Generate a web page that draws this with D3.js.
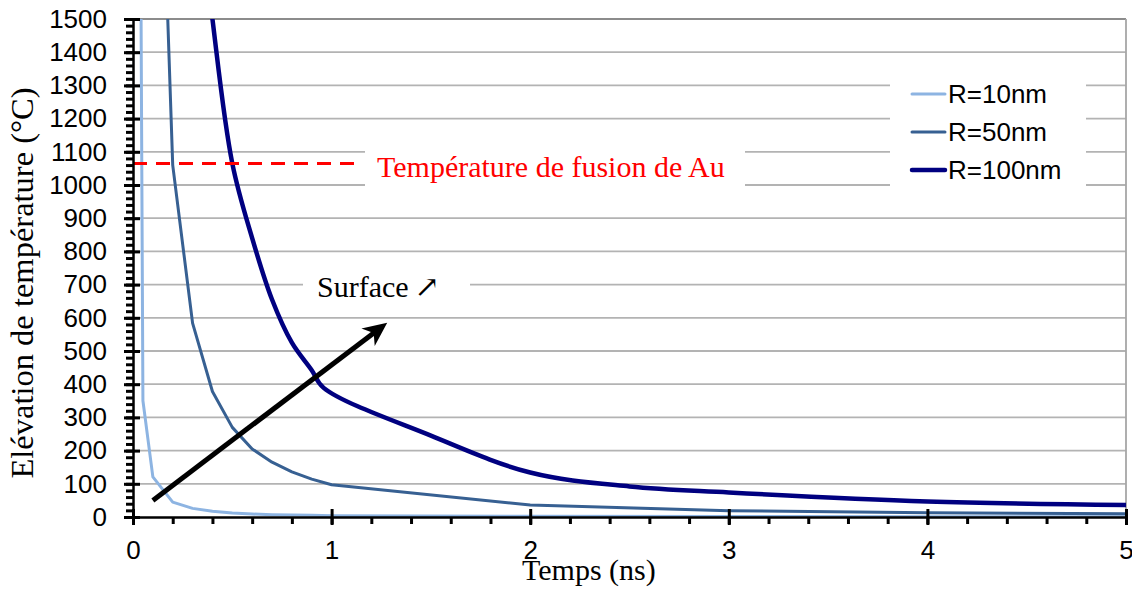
<!DOCTYPE html>
<html>
<head>
<meta charset="utf-8">
<script src="https://cdn.jsdelivr.net/npm/d3@7"></script>
<style>
  html, body { margin: 0; padding: 0; background: #fff; }
  svg { display: block; }
</style>
</head>
<body>
<svg id="chart" width="1132" height="596"></svg>
<script>
// ---- data ----
const seriesNames = ["R=10nm", "R=50nm", "R=100nm"];
const seriesColors = ["#8db4e2", "#376092", "#000080"];
const r10Time  = [0.035, 0.05, 0.1, 0.2, 0.3, 0.4, 0.5, 0.6, 0.7, 0.8, 0.9, 1, 2, 3, 4, 5];
const r10Temp  = [2200, 350, 121, 45, 26, 17, 12, 9, 7, 6, 5, 4, 2, 1.5, 1, 1];
const r50Time  = [0.15, 0.2, 0.3, 0.4, 0.5, 0.6, 0.7, 0.8, 0.9, 1, 2, 3, 4, 5];
const r50Temp  = [1940, 1060, 584, 378, 270, 205, 165, 136, 114, 97, 36, 19, 13, 10];
const r100Time = [0.3, 0.4, 0.5, 0.6, 0.7, 0.8, 0.9, 0.96, 1.5, 2, 2.5, 3, 4, 5];
const r100Temp = [2050, 1500, 1065, 840, 655, 525, 442, 389, 245, 134, 92, 74, 47, 36];
const xTicks = [0, 1, 2, 3, 4, 5];
const xMinorTicks = d3.range(0, 5.0001, 0.2);
const yTicks = d3.range(0, 1501, 100);
const yMinorTicks = d3.range(0, 1501, 20);
const meltTemp = 1065;
const meltLabel = "Température de fusion de Au";
const arrowFrom = [0.1, 50];
const arrowTo = [1.28, 585];
const xTitle = "Temps (ns)";
const yTitle = "Elévation de température (°C)";
const surfaceLabel = "Surface\u2009↗";

// ---- layout ----
const svg = d3.select("#chart");
const x = d3.scaleLinear().domain([0, 5]).range([133, 1126]);
const y = d3.scaleLinear().domain([0, 1500]).range([517, 19]);

const SANS = "'Liberation Sans', Arial, sans-serif";
const SERIF = "'Liberation Serif', 'Times New Roman', 'DejaVu Serif', serif";

svg.append("clipPath").attr("id", "plotclip")
  .append("rect").attr("x", 133).attr("y", 19).attr("width", 993).attr("height", 498);

// gridlines
svg.append("g").selectAll("line").data(yTicks.filter(d => d > 0)).join("line")
  .attr("x1", x(0)).attr("x2", x(5))
  .attr("y1", d => y(d)).attr("y2", d => y(d))
  .attr("stroke", d => d === 1500 ? "#8c8c8c" : "#b3b3b3")
  .attr("stroke-width", 1.8);
// right border
svg.append("line").attr("x1", x(5)).attr("x2", x(5)).attr("y1", y(1500)).attr("y2", y(0))
  .attr("stroke", "#a6a6a6").attr("stroke-width", 1.8);

// white boxes covering gridlines
svg.append("rect").attr("x", 890).attr("y", 74).attr("width", 196).attr("height", 118).attr("fill", "#fff");
svg.append("rect").attr("x", 365).attr("y", 143).attr("width", 380).attr("height", 49).attr("fill", "#fff");
svg.append("rect").attr("x", 303).attr("y", 268).attr("width", 167).attr("height", 32).attr("fill", "#fff");

// series
const allSeries = [
  { name: seriesNames[0], color: seriesColors[0], width: 3, t: r10Time, v: r10Temp, curve: d3.curveLinear },
  { name: seriesNames[1], color: seriesColors[1], width: 3, t: r50Time, v: r50Temp, curve: d3.curveLinear },
  { name: seriesNames[2], color: seriesColors[2], width: 4.5, t: r100Time, v: r100Temp, curve: d3.curveCatmullRom.alpha(0.5) }
];
const gLines = svg.append("g").attr("clip-path", "url(#plotclip)");
allSeries.forEach(s => {
  const pts = s.t.map((t, i) => [t, s.v[i]]);
  const line = d3.line().x(d => x(d[0])).y(d => y(d[1])).curve(s.curve);
  gLines.append("path").attr("d", line(pts)).attr("fill", "none")
    .attr("stroke", s.color).attr("stroke-width", s.width)
    .attr("stroke-linejoin", "round");
});

// melting line
svg.append("line").attr("x1", x(0)).attr("x2", x(1.14))
  .attr("y1", y(meltTemp)).attr("y2", y(meltTemp))
  .attr("stroke", "#ff0000").attr("stroke-width", 3).attr("stroke-dasharray", "14,9");
svg.append("text").attr("x", 377).attr("y", 177).attr("fill", "#ff0000")
  .attr("font-family", SERIF).attr("font-size", 30).text(meltLabel);

// surface label
svg.append("text").attr("x", 317).attr("y", 297)
  .attr("font-family", SERIF).attr("font-size", 30).attr("fill", "#000").text(surfaceLabel);

// arrow
svg.append("defs").append("marker").attr("id", "ah")
  .attr("markerUnits", "userSpaceOnUse").attr("markerWidth", 30).attr("markerHeight", 30)
  .attr("refX", 0).attr("refY", 0).attr("viewBox", "-26 -13 30 26").attr("orient", "auto")
  .append("path").attr("d", "M0,0 L-24,-11 L-17,0 L-24,11 Z").attr("fill", "#000");
const ax1 = x(arrowFrom[0]), ay1 = y(arrowFrom[1]), ax2 = x(arrowTo[0]), ay2 = y(arrowTo[1]);
const ang = Math.atan2(ay2 - ay1, ax2 - ax1);
svg.append("line").attr("x1", ax1).attr("y1", ay1)
  .attr("x2", ax2 - 14 * Math.cos(ang)).attr("y2", ay2 - 14 * Math.sin(ang))
  .attr("stroke", "#000").attr("stroke-width", 5);
svg.append("path").attr("d", `M${ax2 - 14 * Math.cos(ang)},${ay2 - 14 * Math.sin(ang)} L${ax2},${ay2}`)
  .attr("stroke", "none").attr("fill", "none").attr("marker-end", "url(#ah)");

// axes
const yMinor = svg.append("g").attr("transform", `translate(${x(0)},0)`)
  .call(d3.axisLeft(y).tickValues(yMinorTicks).tickSize(7).tickFormat(""));
yMinor.select(".domain").remove();
yMinor.selectAll("line").attr("stroke", "#000").attr("stroke-width", 3);

const yMajor = svg.append("g").attr("transform", `translate(${x(0)},0)`)
  .call(d3.axisLeft(y).tickValues(yTicks).tickSize(9).tickPadding(17).tickSizeOuter(0).tickFormat(d3.format("d")));
yMajor.select(".domain").attr("stroke", "#000").attr("stroke-width", 2.5);
yMajor.selectAll(".tick line").attr("stroke", "#000").attr("stroke-width", 3).attr("x1", 7);
yMajor.selectAll("text").attr("font-family", SANS).attr("font-size", 26).attr("fill", "#000");

const xMinor = svg.append("g").attr("transform", `translate(0,${y(0)})`)
  .call(d3.axisBottom(x).tickValues(xMinorTicks).tickSize(7).tickFormat(""));
xMinor.select(".domain").remove();
xMinor.selectAll("line").attr("stroke", "#000").attr("stroke-width", 3);

const xMajor = svg.append("g").attr("transform", `translate(0,${y(0)})`)
  .call(d3.axisBottom(x).tickValues(xTicks).tickSize(8).tickPadding(16).tickSizeOuter(0).tickFormat(d3.format("d")));
xMajor.select(".domain").attr("stroke", "#000").attr("stroke-width", 2.5);
xMajor.selectAll(".tick line").attr("stroke", "#000").attr("stroke-width", 3).attr("y1", -8);
xMajor.selectAll("text").attr("font-family", SANS).attr("font-size", 26).attr("fill", "#000");

// axis titles
svg.append("text").attr("x", 522).attr("y", 580)
  .attr("font-family", SERIF).attr("font-size", 30).attr("fill", "#000").text(xTitle);
svg.append("text").attr("transform", "translate(33,283) rotate(-90)").attr("text-anchor", "middle")
  .attr("font-family", SERIF).attr("font-size", 32.5).attr("fill", "#000").text(yTitle);

// legend
const legY = [94, 132, 170];
const leg = svg.append("g");
allSeries.forEach((s, i) => {
  leg.append("line").attr("x1", 912).attr("x2", 945).attr("y1", legY[i]).attr("y2", legY[i])
    .attr("stroke", s.color).attr("stroke-width", s.width).attr("stroke-linecap", "round");
  leg.append("text").attr("x", 948).attr("y", legY[i] + 9)
    .attr("font-family", SANS).attr("font-size", 26).attr("fill", "#000").text(s.name);
});
</script>
</body>
</html>
